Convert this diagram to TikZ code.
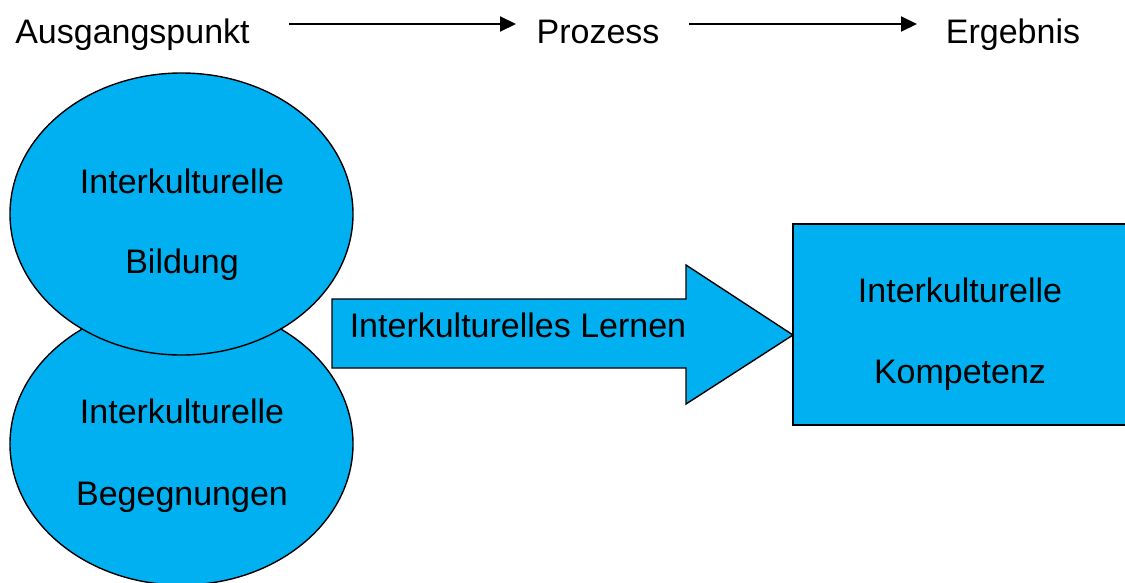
\documentclass[tikz,border=0pt]{standalone}
\usepackage{fontspec}
\setmainfont{Liberation Sans}
\usetikzlibrary{arrows.meta,shapes.geometric}
\definecolor{skyfill}{HTML}{00B0F0}
\begin{document}
\begin{tikzpicture}[x=1pt,y=-1pt,
  lbl/.style={inner sep=0pt,anchor=base,font=\fontsize{34}{40}\selectfont},
  blob/.style={ellipse,draw=black,line width=1.4pt,fill=skyfill,
    minimum width=343pt,minimum height=282pt,inner sep=0pt},
  flowline/.style={line width=2pt,-{Triangle[length=16pt,width=15pt]}},
  shape fill/.style={draw=black,line width=1.4pt,fill=skyfill}]
\useasboundingbox (0,0) rectangle (1125,582);
\clip (0,0) rectangle (1125,582);

% header row
\node[lbl] (start) at (132.5,43) {Ausgangspunkt};
\node[lbl] (proc) at (598,43) {Prozess};
\node[lbl] (res) at (1013,43) {Ergebnis};
\coordinate (a1s) at (289,24);
\coordinate (a1e) at (516,24);
\coordinate (a2s) at (689,24);
\coordinate (a2e) at (917,24);
\draw[flowline] (a1s) -- (a1e);
\draw[flowline] (a2s) -- (a2e);

% starting points
\node[blob] (meet) at (181.5,444) {};
\node[blob] (edu) at (181.5,214) {};
\node[lbl] (edu1) at (182,193) {Interkulturelle};
\node[lbl] (edu2) at (182,273) {Bildung};
\node[lbl] (meet1) at (182,423) {Interkulturelle};
\node[lbl] (meet2) at (182,505) {Begegnungen};

% process arrow
\draw[shape fill,line join=miter] (332,299) -- (686,299) -- (686,265) -- (793,335)
  -- (686,404) -- (686,368) -- (332,368) -- cycle;
\node[lbl] (learn) at (518,337) {Interkulturelles Lernen};

% result box
\draw[shape fill] (793,224) rectangle (1127,425);
\node[lbl] (comp1) at (960,302) {Interkulturelle};
\node[lbl] (comp2) at (960,383) {Kompetenz};
\end{tikzpicture}
\end{document}
